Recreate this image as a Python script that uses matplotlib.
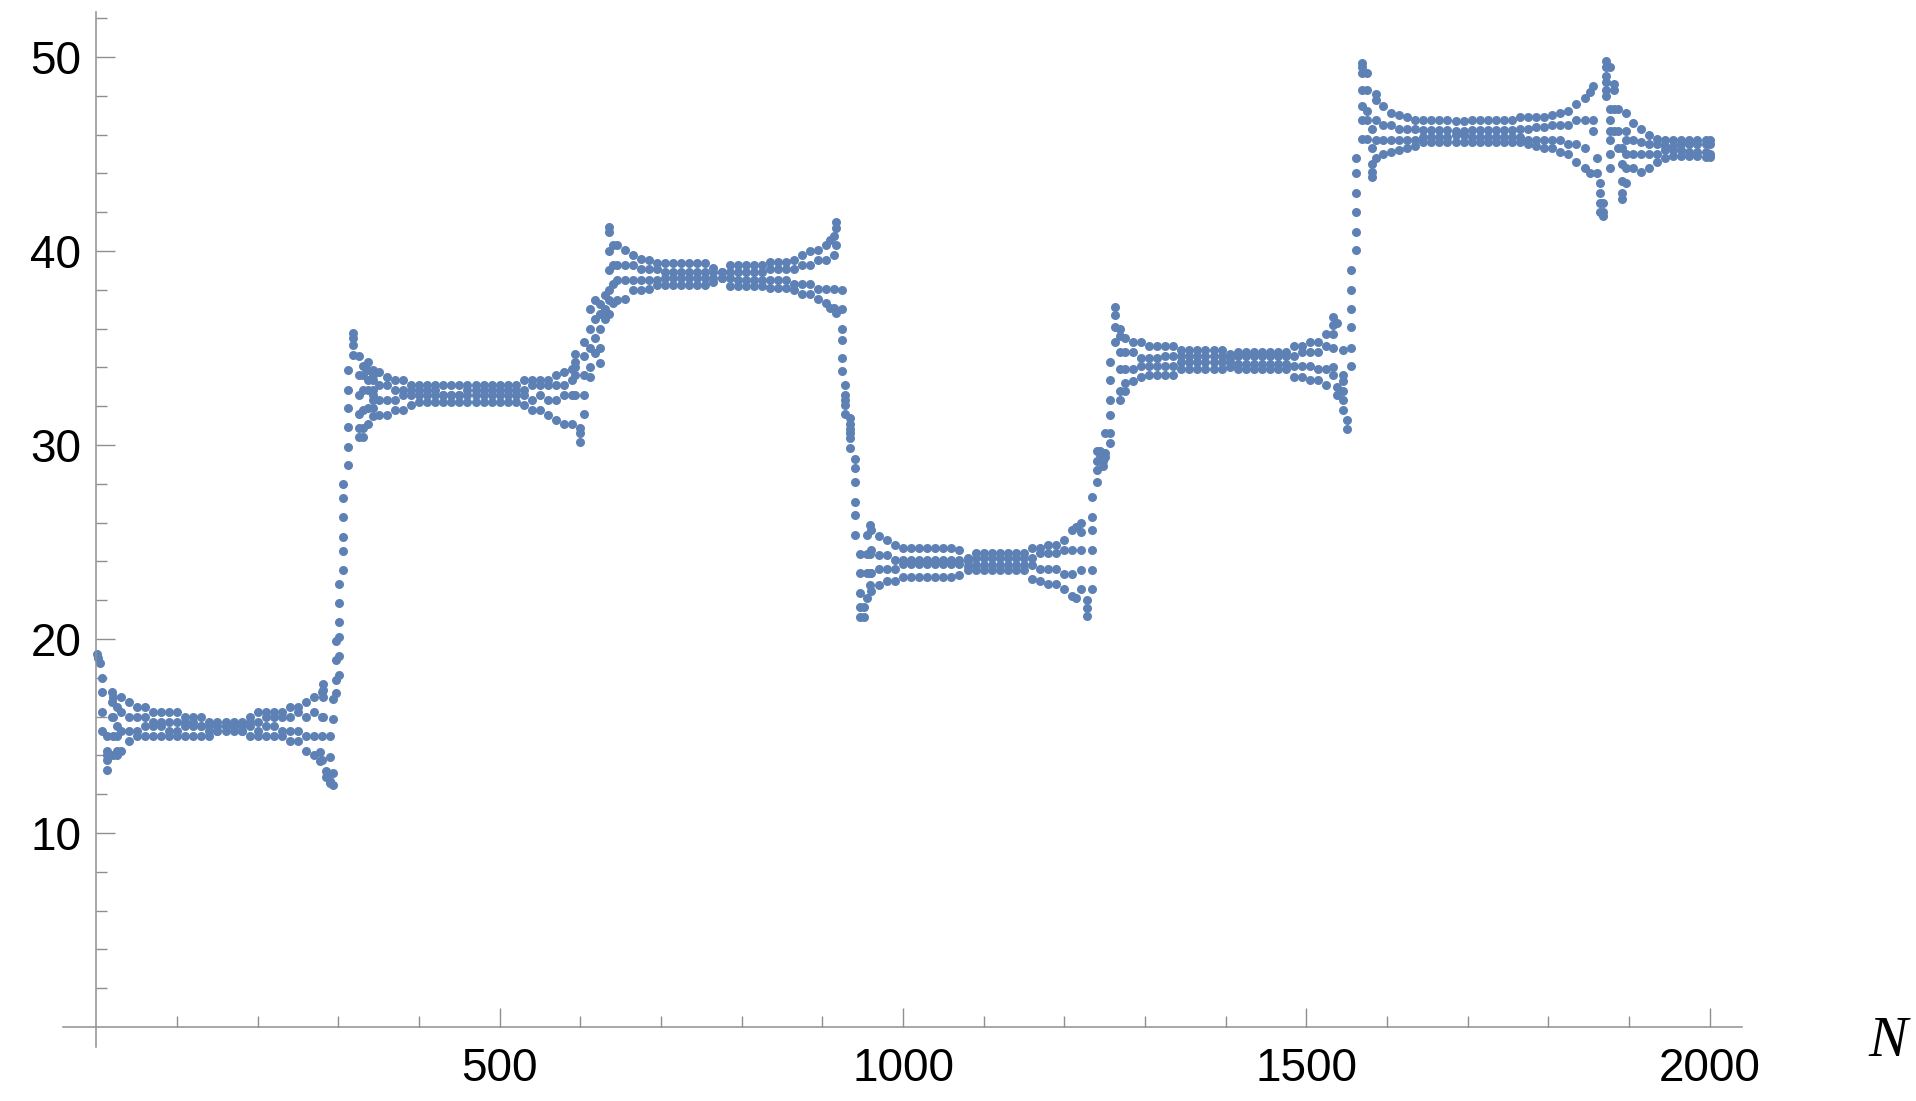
import matplotlib
matplotlib.use("Agg")
import matplotlib.pyplot as plt
import numpy as np

# ---------------- data ----------------
# plateau bands: N positions and four value rows (top, upper-mid, lower-mid, bottom)
seg1_n = [20, 30, 40, 50, 60, 70, 80, 90, 100, 110, 120, 130, 140, 150, 160, 170, 180, 190, 200, 210, 220, 230, 240, 250, 260, 270, 280]
seg1_hi = [17.0, 17.0, 16.75, 16.5, 16.5, 16.25, 16.25, 16.25, 16.25, 16.0, 16.0, 16.0, 15.75, 15.75, 15.75, 15.75, 15.75, 16.0, 16.25, 16.25, 16.25, 16.25, 16.5, 16.5, 16.75, 17.0, 17.25]
seg1_mh = [16.0, 16.25, 16.0, 16.0, 16.0, 15.75, 15.75, 15.75, 15.75, 15.75, 15.75, 15.5, 15.5, 15.5, 15.5, 15.5, 15.5, 15.75, 15.75, 16.0, 16.0, 16.0, 16.0, 16.25, 16.0, 16.25, 16.0]
seg1_ml = [15.0, 15.25, 15.25, 15.25, 15.5, 15.5, 15.5, 15.25, 15.25, 15.5, 15.5, 15.5, 15.25, 15.25, 15.5, 15.5, 15.25, 15.5, 15.25, 15.5, 15.5, 15.25, 15.25, 15.25, 15.0, 15.0, 15.0]
seg1_lo = [14.0, 14.25, 14.75, 15.0, 15.0, 15.0, 15.0, 15.0, 15.0, 15.0, 15.0, 15.0, 15.0, 15.25, 15.25, 15.25, 15.25, 15.0, 15.0, 15.0, 15.0, 15.0, 14.75, 14.75, 14.25, 14.0, 13.75]

seg2_n = [350, 360, 370, 380, 390, 400, 410, 420, 430, 440, 450, 460, 470, 480, 490, 500, 510, 520, 530, 540, 550, 560, 570, 580, 590]
seg2_hi = [33.75, 33.5, 33.35, 33.35, 33.1, 33.1, 33.1, 33.1, 33.1, 33.1, 33.1, 33.1, 33.1, 33.1, 33.1, 33.1, 33.1, 33.1, 33.35, 33.35, 33.35, 33.35, 33.6, 33.75, 33.9]
seg2_mh = [33.1, 33.1, 32.85, 32.85, 32.85, 32.85, 32.85, 32.85, 32.6, 32.6, 32.6, 32.85, 32.85, 32.85, 32.85, 32.85, 32.85, 32.85, 32.85, 33.1, 33.1, 33.1, 33.1, 33.1, 33.35]
seg2_ml = [32.3, 32.3, 32.3, 32.6, 32.6, 32.6, 32.6, 32.6, 32.6, 32.6, 32.6, 32.6, 32.6, 32.6, 32.6, 32.6, 32.6, 32.6, 32.6, 32.3, 32.6, 32.3, 32.3, 32.6, 32.6]
seg2_lo = [31.55, 31.55, 31.8, 31.8, 32.05, 32.2, 32.2, 32.2, 32.2, 32.2, 32.2, 32.2, 32.2, 32.2, 32.2, 32.2, 32.2, 32.2, 32.05, 31.8, 31.8, 31.55, 31.3, 31.1, 31.1]

seg3_n = [645, 655, 665, 675, 685, 695, 705, 715, 725, 735, 745, 755, 765, 775, 785, 795, 805, 815, 825, 835, 845, 855, 865, 875, 885, 895, 905, 915]
seg3_hi = [40.3, 40.05, 39.8, 39.6, 39.55, 39.4, 39.4, 39.4, 39.4, 39.4, 39.4, 39.4, 39.15, 38.9, 39.3, 39.3, 39.3, 39.3, 39.3, 39.45, 39.45, 39.45, 39.55, 39.8, 40.0, 40.05, 40.3, 40.8]
seg3_mh = [39.3, 39.3, 39.3, 39.05, 39.05, 39.05, 38.9, 38.9, 38.9, 38.9, 38.9, 38.9, 38.9, 38.9, 38.9, 38.9, 38.9, 38.9, 38.9, 39.05, 39.05, 39.05, 39.05, 39.3, 39.3, 39.55, 39.55, 39.8]
seg3_ml = [38.5, 38.5, 38.5, 38.5, 38.5, 38.5, 38.6, 38.6, 38.6, 38.6, 38.6, 38.6, 38.6, 38.6, 38.6, 38.5, 38.5, 38.5, 38.5, 38.5, 38.5, 38.5, 38.3, 38.3, 38.3, 38.05, 38.05, 38.05]
seg3_lo = [37.5, 37.55, 38.0, 38.0, 38.05, 38.25, 38.25, 38.25, 38.25, 38.25, 38.25, 38.25, 38.4, 38.6, 38.2, 38.2, 38.2, 38.2, 38.2, 38.1, 38.1, 38.1, 38.0, 37.8, 37.8, 37.55, 37.3, 37.05]

seg4_n = [960, 970, 980, 990, 1000, 1010, 1020, 1030, 1040, 1050, 1060, 1070, 1080, 1090, 1100, 1110, 1120, 1130, 1140, 1150, 1160, 1170, 1180, 1190, 1200, 1210]
seg4_hi = [25.6, 25.3, 25.1, 24.85, 24.7, 24.7, 24.7, 24.7, 24.7, 24.7, 24.7, 24.6, 24.2, 24.45, 24.45, 24.45, 24.45, 24.45, 24.45, 24.45, 24.7, 24.7, 24.85, 24.85, 25.1, 25.6]
seg4_mh = [24.6, 24.35, 24.35, 24.1, 24.1, 24.1, 24.1, 24.1, 24.1, 24.1, 24.1, 24.1, 24.0, 24.2, 24.2, 24.2, 24.2, 24.2, 24.2, 24.2, 24.2, 24.45, 24.45, 24.45, 24.6, 24.6]
seg4_ml = [23.4, 23.6, 23.6, 23.6, 23.85, 23.85, 23.85, 23.85, 23.85, 23.85, 23.85, 23.85, 23.75, 23.8, 23.8, 23.8, 23.8, 23.8, 23.8, 23.8, 23.8, 23.6, 23.6, 23.6, 23.35, 23.35]
seg4_lo = [22.5, 22.8, 23.0, 23.0, 23.2, 23.2, 23.2, 23.2, 23.2, 23.2, 23.2, 23.3, 23.55, 23.55, 23.55, 23.55, 23.55, 23.55, 23.55, 23.55, 23.1, 23.0, 22.85, 22.85, 22.6, 22.2]

seg5_n = [1285, 1295, 1305, 1315, 1325, 1335, 1345, 1355, 1365, 1375, 1385, 1395, 1405, 1415, 1425, 1435, 1445, 1455, 1465, 1475, 1485, 1495, 1505, 1515, 1525]
seg5_hi = [35.3, 35.3, 35.1, 35.1, 35.1, 35.1, 34.9, 34.9, 34.9, 34.9, 34.9, 34.9, 34.7, 34.8, 34.8, 34.8, 34.8, 34.8, 34.8, 34.8, 35.1, 35.1, 35.3, 35.3, 35.7]
seg5_mh = [34.8, 34.5, 34.5, 34.5, 34.6, 34.6, 34.6, 34.6, 34.6, 34.6, 34.6, 34.6, 34.5, 34.6, 34.6, 34.6, 34.6, 34.6, 34.6, 34.6, 34.6, 34.8, 34.8, 34.8, 35.1]
seg5_ml = [33.9, 34.1, 34.1, 34.1, 34.1, 34.1, 34.3, 34.3, 34.3, 34.3, 34.3, 34.3, 34.3, 34.2, 34.2, 34.2, 34.2, 34.2, 34.2, 34.2, 34.1, 34.1, 34.1, 33.9, 33.9]
seg5_lo = [33.3, 33.5, 33.6, 33.6, 33.6, 33.6, 33.9, 33.9, 33.9, 33.9, 33.9, 33.9, 34.0, 33.9, 33.9, 33.9, 33.9, 33.9, 33.9, 33.9, 33.5, 33.5, 33.35, 33.35, 33.1]

seg6_n = [1595, 1605, 1615, 1625, 1635, 1645, 1655, 1665, 1675, 1685, 1695, 1705, 1715, 1725, 1735, 1745, 1755, 1765, 1775, 1785, 1795, 1805, 1815, 1825, 1835, 1845]
seg6_hi = [47.5, 47.1, 47.0, 46.9, 46.75, 46.75, 46.75, 46.75, 46.75, 46.7, 46.7, 46.75, 46.75, 46.75, 46.75, 46.75, 46.75, 46.9, 46.9, 46.9, 46.9, 47.0, 47.1, 47.2, 47.6, 47.9]
seg6_mh = [46.5, 46.5, 46.3, 46.3, 46.3, 46.25, 46.25, 46.25, 46.25, 46.2, 46.2, 46.25, 46.25, 46.25, 46.25, 46.25, 46.25, 46.3, 46.3, 46.4, 46.4, 46.5, 46.5, 46.5, 46.75, 46.75]
seg6_ml = [45.7, 45.7, 45.75, 45.75, 45.75, 45.9, 45.9, 45.9, 45.9, 46.0, 46.0, 45.9, 45.9, 45.9, 45.9, 45.9, 45.9, 45.9, 45.75, 45.75, 45.75, 45.7, 45.7, 45.5, 45.5, 45.3]
seg6_lo = [45.0, 45.1, 45.2, 45.3, 45.4, 45.6, 45.6, 45.6, 45.6, 45.6, 45.6, 45.6, 45.6, 45.6, 45.6, 45.6, 45.6, 45.6, 45.5, 45.4, 45.3, 45.3, 45.1, 45.0, 44.6, 44.3]

seg7_n = [1905, 1915, 1925, 1935, 1945, 1955, 1965, 1975, 1985, 1995, 2000]
seg7_hi = [46.6, 46.3, 46.0, 45.8, 45.75, 45.75, 45.75, 45.75, 45.75, 45.75, 45.75]
seg7_mh = [45.7, 45.6, 45.5, 45.5, 45.4, 45.4, 45.5, 45.5, 45.5, 45.5, 45.5]
seg7_ml = [45.0, 45.0, 45.0, 45.0, 45.2, 45.2, 45.2, 45.1, 45.1, 45.1, 45.0]
seg7_lo = [44.3, 44.1, 44.3, 44.6, 44.8, 44.9, 44.9, 44.9, 44.9, 44.85, 44.85]

# edge fans and jumps: N of each column and the values in it
edge_n = [1, 2, 4, 7, 13, 19, 25, 277, 281, 285, 289, 293, 297, 301, 306, 312, 318, 325, 331, 337, 343,
          593, 599, 605, 612, 618, 624, 630, 636, 640, 910, 917, 924, 928, 934, 940, 947, 951, 955, 959,
          1215, 1221, 1228, 1234, 1240, 1244, 1248, 1251, 1256, 1263, 1269, 1275,
          1533, 1538, 1546, 1550, 1556, 1562, 1569, 1575, 1581, 1587,
          1852, 1856, 1860, 1864, 1868, 1872, 1877, 1881, 1886, 1891, 1897]
edge_vals = [
    [19.25], [19.0], [18.75], [18.0, 17.25, 16.25, 15.25], [15.0, 14.25, 14.0, 13.75, 13.25],
    [17.25, 16.75, 16.0], [16.5, 15.5, 15.0, 14.25, 14.0],
    [14.2, 13.7], [17.7, 17.4, 17.0, 16.0], [13.2, 12.9], [12.7, 12.6, 15.0, 13.9], [13.1, 12.5, 16.9, 15.9],
    [19.9, 18.9, 17.9, 17.2],
    [22.85, 21.85, 20.87, 20.13, 19.15, 18.17], [28.0, 27.25, 26.27, 25.28, 24.56, 23.57],
    [33.87, 32.84, 31.89, 30.95, 29.92, 28.97], [35.76, 35.5, 35.16, 34.64],
    [34.6, 33.6, 32.6, 31.6, 30.9, 30.4], [34.1, 33.6, 32.84, 31.8, 30.9, 30.4],
    [34.3, 33.87, 33.35, 32.84, 31.9, 31.1], [33.87, 33.6, 33.35, 32.84, 32.58, 32.32, 31.9, 31.5],
    [34.7, 34.3, 34.0, 33.6, 32.6], [30.9, 30.6, 30.15], [35.3, 34.6, 33.6, 32.6, 31.6],
    [37.0, 36.0, 35.0, 34.0, 33.5], [37.5, 36.5, 35.5, 34.75], [37.25, 36.75, 36.0, 35.0, 34.25],
    [37.75, 37.0, 36.5], [41.25, 41.0, 40.0, 39.0, 38.0, 37.5, 36.75], [40.3, 39.3, 38.3, 37.3],
    [40.55, 37.05], [41.5, 41.2, 40.3, 36.8], [38.0, 37.0, 36.0, 35.4, 34.5, 33.8],
    [33.1, 32.6, 32.3, 32.06, 31.6], [31.4, 31.1, 30.85, 30.6, 30.35, 29.83],
    [29.3, 28.8, 28.1, 27.08, 26.4, 25.36], [24.4, 23.4, 22.4, 21.67, 21.15], [21.67, 21.15],
    [25.36, 24.4, 23.4, 22.1], [25.9, 24.4, 23.4, 22.8],
    [25.8, 22.1], [26.0, 25.5, 24.6, 23.55, 22.6], [22.0, 21.6, 21.2], [27.3, 26.3, 25.6, 24.6, 23.55, 22.6],
    [28.1, 29.7, 29.2, 28.7], [29.7, 29.4], [29.2, 28.9], [29.6, 29.4, 30.6],
    [30.1, 30.6, 31.55, 32.3, 33.35, 34.3], [37.1, 36.7, 36.1, 35.3],
    [36.0, 35.6, 34.8, 33.9, 32.8, 32.3], [35.5, 34.8, 33.9, 33.2, 32.8],
    [36.6, 36.2, 35.7, 35.0, 34.0, 33.6], [33.0, 32.6, 36.3], [34.9, 33.6, 33.3, 32.8, 32.3, 31.8], [31.3, 30.85],
    [34.1, 35.0, 36.06, 37.0, 38.0, 39.04], [40.05, 41.0, 42.0, 43.0, 44.0, 44.8],
    [49.7, 49.5, 49.2, 48.3, 47.5, 46.75, 45.8], [49.2, 48.3, 47.2, 46.75, 45.8],
    [46.3, 45.3, 44.5, 44.1, 43.8], [48.1, 47.8, 46.75, 45.7, 44.8],
    [48.2, 44.0], [48.5, 46.75, 46.2], [44.8, 44.0], [43.5, 43.0, 42.5, 42.0], [42.5, 42.0, 41.8],
    [49.8, 49.5, 49.0, 48.7, 48.3, 48.0], [49.5, 47.3, 46.75, 46.2, 45.7, 45.0, 44.3],
    [48.6, 48.3, 47.3, 46.2], [47.3, 46.2, 45.3], [45.3, 44.5, 43.6, 43.0, 42.7],
    [47.1, 46.2, 45.7, 45.0, 44.3, 43.5],
]

x_major = [500, 1000, 1500, 2000]
y_major = [10, 20, 30, 40, 50]

# ---------------- drawing ----------------
dot = dict(linestyle="none", marker="o", markersize=6.5, markeredgewidth=0, color="#5E81B5")
axis_col = "#8f8f8f"

fig = plt.figure(figsize=(19.16, 11.01), dpi=100)
ax = fig.add_axes([0.0331, 0.0490, 0.8760, 0.9397])

segments = [
    (seg1_n, [seg1_hi, seg1_mh, seg1_ml, seg1_lo]),
    (seg2_n, [seg2_hi, seg2_mh, seg2_ml, seg2_lo]),
    (seg3_n, [seg3_hi, seg3_mh, seg3_ml, seg3_lo]),
    (seg4_n, [seg4_hi, seg4_mh, seg4_ml, seg4_lo]),
    (seg5_n, [seg5_hi, seg5_mh, seg5_ml, seg5_lo]),
    (seg6_n, [seg6_hi, seg6_mh, seg6_ml, seg6_lo]),
    (seg7_n, [seg7_hi, seg7_mh, seg7_ml, seg7_lo]),
]
for n, rows in segments:
    for r in rows:
        ax.plot(n, r, **dot)

xs, ys = [], []
for n, vals in zip(edge_n, edge_vals):
    for v in vals:
        xs.append(n)
        ys.append(v)
ax.plot(xs, ys, **dot)

ax.set_xlim(-41, 2040)
ax.set_ylim(-1.03, 52.3)

for s in ["top", "right"]:
    ax.spines[s].set_visible(False)
ax.spines["left"].set_position(("data", 0))
ax.spines["bottom"].set_position(("data", 0))
for s in ["left", "bottom"]:
    ax.spines[s].set_color(axis_col)
    ax.spines[s].set_linewidth(1.1)

ax.set_xticks(x_major)
ax.set_xticks([v for v in range(100, 2001, 100) if v not in x_major], minor=True)
ax.set_yticks(y_major)
ax.set_yticks([v for v in range(2, 53, 2) if v not in y_major], minor=True)
ax.set_xticklabels([str(v) for v in x_major])
ax.set_yticklabels([str(v) for v in y_major])

ax.tick_params(which="major", direction="in", length=13.5, width=1.0, color=axis_col,
               labelsize=33, labelcolor="black")
ax.tick_params(which="minor", direction="in", length=8, width=1.0, color=axis_col)
ax.tick_params(axis="x", which="major", pad=14)
ax.tick_params(axis="y", which="major", pad=11)
for lab in ax.get_xticklabels() + ax.get_yticklabels():
    lab.set_family(["Liberation Sans", "DejaVu Sans"])

fig.text(1888 / 1916, 1 - 1042 / 1101, "N", ha="center", va="center",
         fontsize=42, style="italic", family=["Liberation Serif", "DejaVu Serif"])

fig.savefig("out.png", dpi=100, facecolor="white")
